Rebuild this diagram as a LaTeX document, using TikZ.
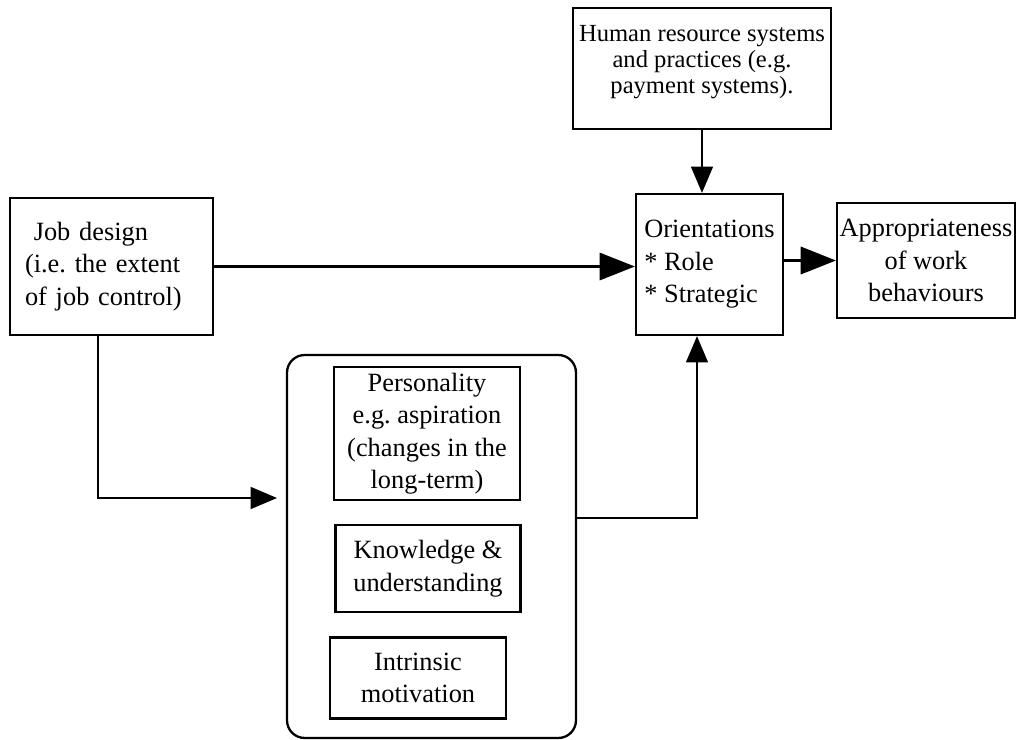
\documentclass[tikz,border=0pt]{standalone}
\usepackage{fontspec}
\setmainfont{Liberation Serif}
\usetikzlibrary{arrows.meta}
\begin{document}
\begin{tikzpicture}[x=0.02cm, y=-0.02cm,
  box/.style={draw, rectangle, line width=1.3pt, inner sep=0pt, align=center, font=\fontsize{15}{18.5}\selectfont},
  tri/.style={-{Triangle[length=15pt, width=12.5pt]}, line width=1pt},
  bigtri/.style={-{Triangle[length=20pt, width=15.5pt]}, line width=1.2pt}]
\useasboundingbox (0,0) rectangle (1018,740);
\node  (hr)[box, font=\fontsize{14}{14.8}\selectfont, minimum width=5.16cm, minimum height=2.42cm] at (702,68.5) {Human resource systems\\and practices (e.g.\\payment systems).\\[-4pt]\mbox{}};
\node  (job)[box, align=left, text width=3.46cm, inner xsep=0.3cm, minimum height=2.74cm] at (111.5,266.5) {\ Job design\\(i.e.\ the extent\\of job control)};
\node  (orient)[box, align=left, minimum width=2.94cm, minimum height=2.82cm] at (709.5,264.5) {Orientations\\* Role\\* Strategic};
\node  (approp)[box, minimum width=3.56cm, minimum height=2.3cm] at (926,260.5) {Appropriateness\\of work\\behaviours};
\node  (grp)[draw, rectangle, rounded corners=10pt, line width=1.3pt, minimum width=5.78cm, minimum height=7.66cm] at (431.5,546.5) {};
\node  (pers)[box, minimum width=3.72cm, minimum height=2.66cm] at (427,433.5) {Personality\\e.g.\ aspiration\\(changes in the\\long-term)};
\node  (know)[box, minimum width=3.7cm, minimum height=1.74cm] at (428,568.5) {Knowledge \&\\understanding};
\node  (intr)[box, minimum width=3.52cm, minimum height=1.62cm] at (418,678) {Intrinsic\\motivation};
\coordinate (pin) at (277,498);
\draw[tri] (hr.south) -- (hr.south |- orient.north);
\draw[bigtri] (job.east) -- (job.east -| orient.west);
\draw[bigtri, line width=1.6pt] (orient.east |- approp.west) -- (approp.west);
\draw[tri] ([xshift=-0.27cm]job.south) |- (pin);
\draw[tri] (grp.east |- 0,518) -| ([xshift=-0.25cm]orient.south);
\end{tikzpicture}
\end{document}
